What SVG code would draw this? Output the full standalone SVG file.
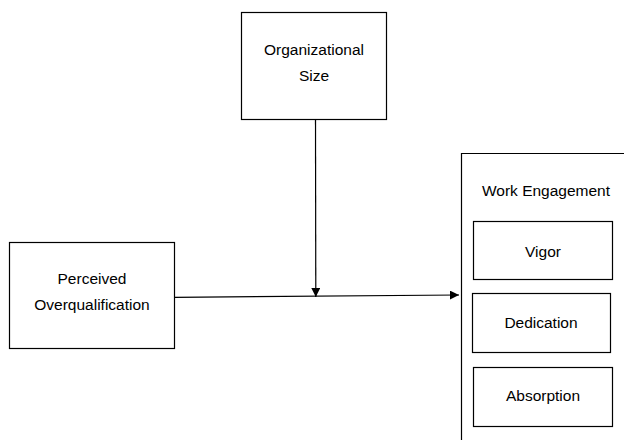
<svg xmlns="http://www.w3.org/2000/svg" width="624" height="440" viewBox="0 0 624 440">
<defs>
<style>
.box{fill:#fff;stroke:#000;stroke-width:1.2}
.lbl{font-family:"Liberation Sans",Arial,sans-serif;font-size:15.5px;fill:#000;text-anchor:middle}
.con{fill:none;stroke:#000;stroke-width:1.2}
</style>
<marker id="ah" viewBox="0 0 10 10" refX="10" refY="5" markerWidth="9" markerHeight="9" markerUnits="userSpaceOnUse" orient="auto">
<path d="M0,0 L10,5 L0,10 z" fill="#000"/>
</marker>
</defs>
<rect width="624" height="440" fill="#fff"/>
<g id="org-size">
<rect class="box" x="241.5" y="12.5" width="145" height="107"/>
<text class="lbl" x="314" y="55">Organizational</text>
<text class="lbl" x="314" y="81">Size</text>
</g>
<g id="perceived-overqualification">
<rect class="box" x="9.5" y="242.5" width="165" height="106"/>
<text class="lbl" x="92" y="284">Perceived</text>
<text class="lbl" x="92" y="310">Overqualification</text>
</g>
<g id="work-engagement">
<path class="con" d="M461.5,441 L461.5,153.5 L625,153.5"/>
<text class="lbl" x="546" y="196">Work Engagement</text>
</g>
<g id="vigor">
<rect class="box" x="473.5" y="221.5" width="139" height="58"/>
<text class="lbl" x="543" y="257">Vigor</text>
</g>
<g id="dedication">
<rect class="box" x="472.5" y="293.5" width="138" height="59"/>
<text class="lbl" x="541" y="328">Dedication</text>
</g>
<g id="absorption">
<rect class="box" x="473.5" y="367.5" width="139" height="59"/>
<text class="lbl" x="543" y="401">Absorption</text>
</g>
<g id="connectors">
<line class="con" x1="174.5" y1="297.3" x2="459" y2="295" marker-end="url(#ah)"/>
<line class="con" x1="315.5" y1="119.5" x2="315.8" y2="297" marker-end="url(#ah)"/>
</g>
</svg>
